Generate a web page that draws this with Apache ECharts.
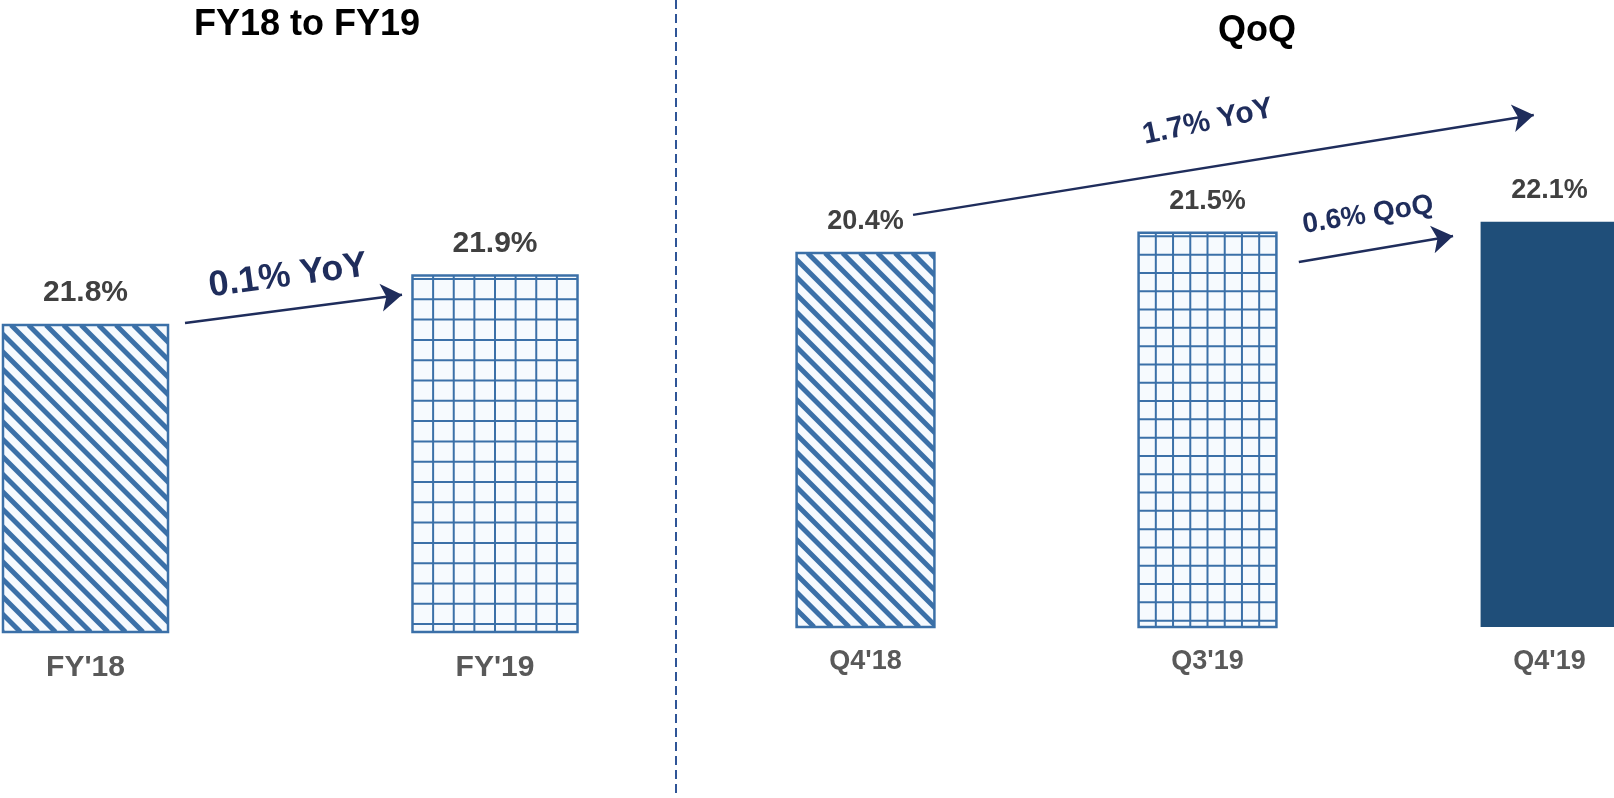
<!DOCTYPE html>
<html>
<head>
<meta charset="utf-8">
<script src="https://cdn.jsdelivr.net/npm/echarts@6.0.0/dist/echarts.min.js"></script>
<style>
html,body{margin:0;padding:0;background:#fff;}
#chart{width:1614px;height:798px;}
</style>
</head>
<body>
<div id="chart"></div>
<script>
// ---- data ----
const fyCategories = ["FY'18", "FY'19"];
const fyValues = [21.8, 21.9];
const qCategories = ["Q4'18", "Q3'19", "Q4'19"];
const qValues = [20.4, 21.5, 22.1];
const panelTitles = ['FY18 to FY19', 'QoQ'];
const changeLabels = ['0.1% YoY', '1.7% YoY', '0.6% QoQ'];

// ---- styles ----
const FONT = '"Liberation Sans", Arial, Helvetica, sans-serif';
const BLUE = '#3b70a8';
const NAVY = '#1f2d5c';
const SOLID = '#1f4e79';

function barRenderer(fills, rowH, labelSize, labelGap) {
  return function (params, api) {
    const i = api.value(0), v = api.value(1);
    const cs = params.coordSys;
    const topPt = api.coord([i, v]);
    const baseY = cs.y + cs.height;
    const w = api.size([1, 0])[0] * 0.403;
    const x0 = topPt[0] - w / 2, y0 = topPt[1], h = baseY - y0;
    const rect = {x: x0, y: y0, width: w, height: h};
    const kind = fills[params.dataIndex];
    const children = [];
    if (kind === 'solid') {
      children.push({type: 'rect', shape: rect, style: {fill: SOLID}});
    } else {
      children.push({type: 'rect', shape: rect, style: {fill: '#f6fafe'}});
      const lines = [];
      if (kind === 'hatch') {
        const p = 17.5;
        for (let t = -h; t < w + p; t += p) {
          lines.push({type: 'line', shape: {x1: x0 + t, y1: y0, x2: x0 + t + h, y2: y0 + h},
            style: {stroke: BLUE, lineWidth: 5}});
        }
      } else {
        const cols = 8;
        for (let k = 1; k < cols; k++) {
          const x = x0 + k * w / cols;
          lines.push({type: 'line', shape: {x1: x, y1: y0, x2: x, y2: baseY}, style: {stroke: BLUE, lineWidth: 2}});
        }
        for (let y = y0 + 3.5; y < baseY; y += rowH) {
          lines.push({type: 'line', shape: {x1: x0, y1: y, x2: x0 + w, y2: y}, style: {stroke: BLUE, lineWidth: 2}});
        }
      }
      children.push({type: 'group', clipPath: {type: 'rect', shape: rect}, children: lines});
      children.push({type: 'rect', shape: rect, style: {fill: 'none', stroke: BLUE, lineWidth: 2.5}});
    }
    children.push({type: 'text', style: {
      text: v.toFixed(1) + '%', x: topPt[0], y: y0 - labelGap,
      align: 'center', verticalAlign: 'middle',
      fontSize: labelSize, fontWeight: 'bold', fontFamily: FONT, fill: '#404040'}});
    return {type: 'group', children: children};
  };
}

const catLabel = (size) => ({show: true, interval: 0, fontSize: size, fontWeight: 'bold',
  color: '#595959', fontFamily: FONT, margin: 21});

const chart = echarts.init(document.getElementById('chart'), null, {renderer: 'canvas'});
chart.setOption({
  backgroundColor: '#ffffff',
  animation: false,
  grid: [
    {left: 85.5, right: 1119, top: 226, bottom: 166, outerBoundsMode: 'none'},
    {left: 865.5, right: 64.5, top: 77, bottom: 171, outerBoundsMode: 'none'}
  ],
  xAxis: [
    {type: 'category', gridIndex: 0, data: fyCategories, boundaryGap: false,
      axisLine: {show: false}, axisTick: {show: false}, splitLine: {show: false}, axisLabel: catLabel(30)},
    {type: 'value', gridIndex: 0, min: 0, max: 1, show: false},
    {type: 'category', gridIndex: 1, data: qCategories, boundaryGap: false,
      axisLine: {show: false}, axisTick: {show: false}, splitLine: {show: false}, axisLabel: catLabel(27)},
    {type: 'value', gridIndex: 1, min: 0, max: 2, show: false}
  ],
  yAxis: [
    {type: 'value', gridIndex: 0, min: 21.18, max: 22.0, show: false},
    {type: 'value', gridIndex: 1, min: 0, max: 30, show: false}
  ],
  series: [
    {type: 'custom', xAxisIndex: 0, yAxisIndex: 0, silent: true,
      renderItem: barRenderer(['hatch', 'grid'], 20.3, 30, 32),
      data: fyValues.map((v, i) => [i, v])},
    {type: 'custom', xAxisIndex: 2, yAxisIndex: 1, silent: true,
      renderItem: barRenderer(['hatch', 'grid', 'solid'], 18.3, 27, 31),
      data: qValues.map((v, i) => [i, v])},
    {type: 'lines', coordinateSystem: 'cartesian2d', xAxisIndex: 1, yAxisIndex: 0, silent: true,
      symbol: ['none', 'arrow'], symbolSize: 21,
      lineStyle: {color: NAVY, width: 2.5, opacity: 1, curveness: 0},
      data: [{coords: [[0.243, 21.804], [0.773, 21.861]]}]},
    {type: 'lines', coordinateSystem: 'cartesian2d', xAxisIndex: 3, yAxisIndex: 1, silent: true,
      symbol: ['none', 'arrow'], symbolSize: 21,
      lineStyle: {color: NAVY, width: 2.5, opacity: 1, curveness: 0},
      data: [
        {coords: [[0.139, 22.48], [1.954, 27.93]]},
        {coords: [[1.267, 19.91], [1.718, 21.33]]}
      ]}
  ],
  graphic: [
    {type: 'line', silent: true, shape: {x1: 676, y1: 0, x2: 676, y2: 798},
      style: {stroke: '#2f5597', lineWidth: 2, lineDash: [9, 5]}},
    {type: 'text', x: 307, y: 25, silent: true, style: {text: panelTitles[0], align: 'center', verticalAlign: 'middle',
      fontSize: 36, fontWeight: 'bold', fontFamily: FONT, fill: '#000'}},
    {type: 'text', x: 1257, y: 31, silent: true, style: {text: panelTitles[1], align: 'center', verticalAlign: 'middle',
      fontSize: 36, fontWeight: 'bold', fontFamily: FONT, fill: '#000'}},
    {type: 'text', x: 288, y: 276, rotation: 7.6 * Math.PI / 180, silent: true,
      style: {text: changeLabels[0], align: 'center', verticalAlign: 'middle',
        fontSize: 36, fontWeight: 'bold', fontFamily: FONT, fill: NAVY}},
    {type: 'text', x: 1208, y: 122, rotation: 12 * Math.PI / 180, silent: true,
      style: {text: changeLabels[1], align: 'center', verticalAlign: 'middle',
        fontSize: 30, fontWeight: 'bold', fontFamily: FONT, fill: NAVY}},
    {type: 'text', x: 1368, y: 215, rotation: 9 * Math.PI / 180, silent: true,
      style: {text: changeLabels[2], align: 'center', verticalAlign: 'middle',
        fontSize: 28, fontWeight: 'bold', fontFamily: FONT, fill: NAVY}}
  ]
});
</script>
</body>
</html>
